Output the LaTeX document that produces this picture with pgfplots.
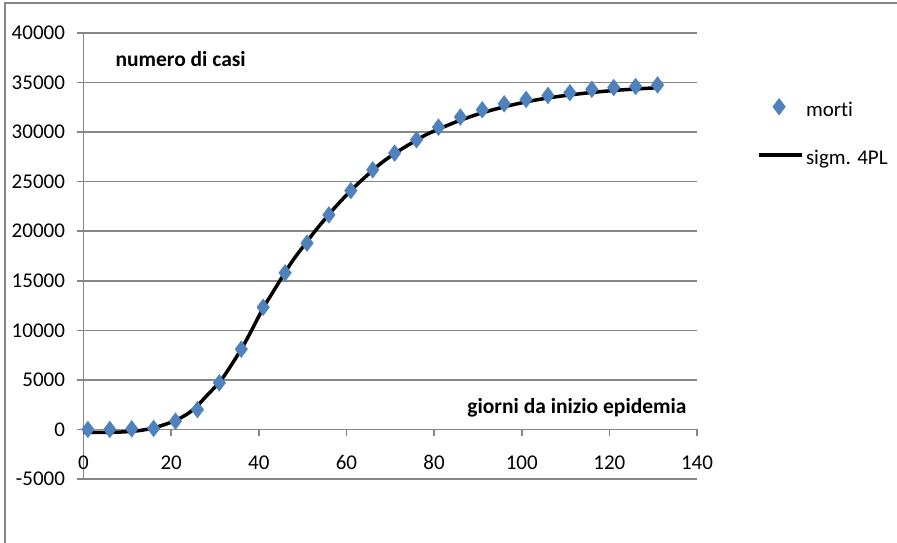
\documentclass[border=0pt]{standalone}
\usepackage{pgfplots}
\pgfplotsset{compat=1.18}
\usepackage{fontspec}
\setmainfont{Carlito}[Ligatures={NoCommon}]
\definecolor{gridgray}{RGB}{134,134,134}
\definecolor{dotblue}{RGB}{79,129,189}

\begin{document}
\begin{tikzpicture}[x=1pt,y=1pt]
\useasboundingbox (0,0) rectangle (897,542);
% chart frame
\draw[gridgray, line width=2.2pt] (5,-20) -- (5,539) -- (920,539);
\begin{axis}[
  at={(83.5pt,63pt)}, anchor=south west,
  scale only axis, width=613.5pt, height=446pt,
  xmin=0, xmax=140, ymin=-5000, ymax=40000,
  axis y line=left, axis x line=middle,
  hide obscured x ticks=false,
  axis line style={gridgray, line width=1.6pt, -},
  xtick={0,20,...,140}, ytick={-5000,0,...,40000},
  ymajorgrids, grid style={gridgray, line width=1.6pt},
  tick align=outside, major tick length=7pt,
  tick style={gridgray, line width=1.6pt},
  scaled y ticks=false,
  /pgf/number format/1000 sep={},
  /pgf/number format/assume math mode=true,
  ticklabel style={font=\fontsize{21}{25}\selectfont, text=black},
  xticklabel style={anchor=center, yshift=-26pt},
  yticklabel style={anchor=east, xshift=-8pt},
  clip=false,
  reverse legend,
  legend cell align=left,
  legend style={at={(axis description cs:1.0978,0.7735)}, anchor=west,
    draw=none, fill=none, inner sep=0pt,
    font=\fontsize{21}{25}\selectfont,
    nodes={inner sep=0pt, text height=15pt, text depth=5pt},
    column sep=2pt, row sep=28pt},
]
% fitted 4PL sigmoid
\addplot[black, line width=3.5pt, smooth, tension=0.5,
  legend image code/.code={\draw[black, line width=3.8pt] (0pt,5pt) -- (43pt,5pt);}]
  coordinates {
  (0,-300) (3,-298) (6,-290) (9,-250) (11,-190) (13,-100) (16,150) (18,420)
  (21,900) (24,1650) (26,2400) (28,3350) (31,4750) (33,6000) (36,8100)
  (38,9700) (41,12250) (43,13700) (46,15850) (48,17200) (51,18950) (53,20100)
  (56,21700) (58,22700) (61,24100) (63,24950) (66,26150) (68,26900)
  (71,27850) (73,28400) (76,29200) (78,29700) (81,30300) (86,31200)
  (91,31950) (96,32550) (101,33050) (106,33450) (111,33750) (116,34000)
  (121,34200) (126,34350) (131,34480)};
\addlegendentry{sigm. 4PL}
% cumulative deaths
\addplot[only marks, mark=diamond*, mark size=8.5pt,
  mark options={fill=dotblue, draw=dotblue, line width=0.2pt},
  legend image code/.code={\draw[only marks] plot coordinates {(20pt,5pt)};}]
  coordinates {
  (1,0) (6,0) (11,60) (16,100) (21,840) (26,2000) (31,4700) (36,8100)
  (41,12330) (46,15800) (51,18800) (56,21650) (61,24100) (66,26200)
  (71,27880) (76,29230) (81,30500) (86,31520) (91,32260) (96,32860)
  (101,33300) (106,33700) (111,33980) (116,34320) (121,34500) (126,34600)
  (131,34760)};
\addlegendentry{morti}
\end{axis}
\node[anchor=base west, font=\bfseries\fontsize{21.5}{25}\selectfont] at (112,475.3) {numero di casi};
\node[anchor=base east, font=\bfseries\fontsize{21.5}{25}\selectfont] at (690,128.7) {giorni da inizio epidemia};
\end{tikzpicture}
\end{document}
